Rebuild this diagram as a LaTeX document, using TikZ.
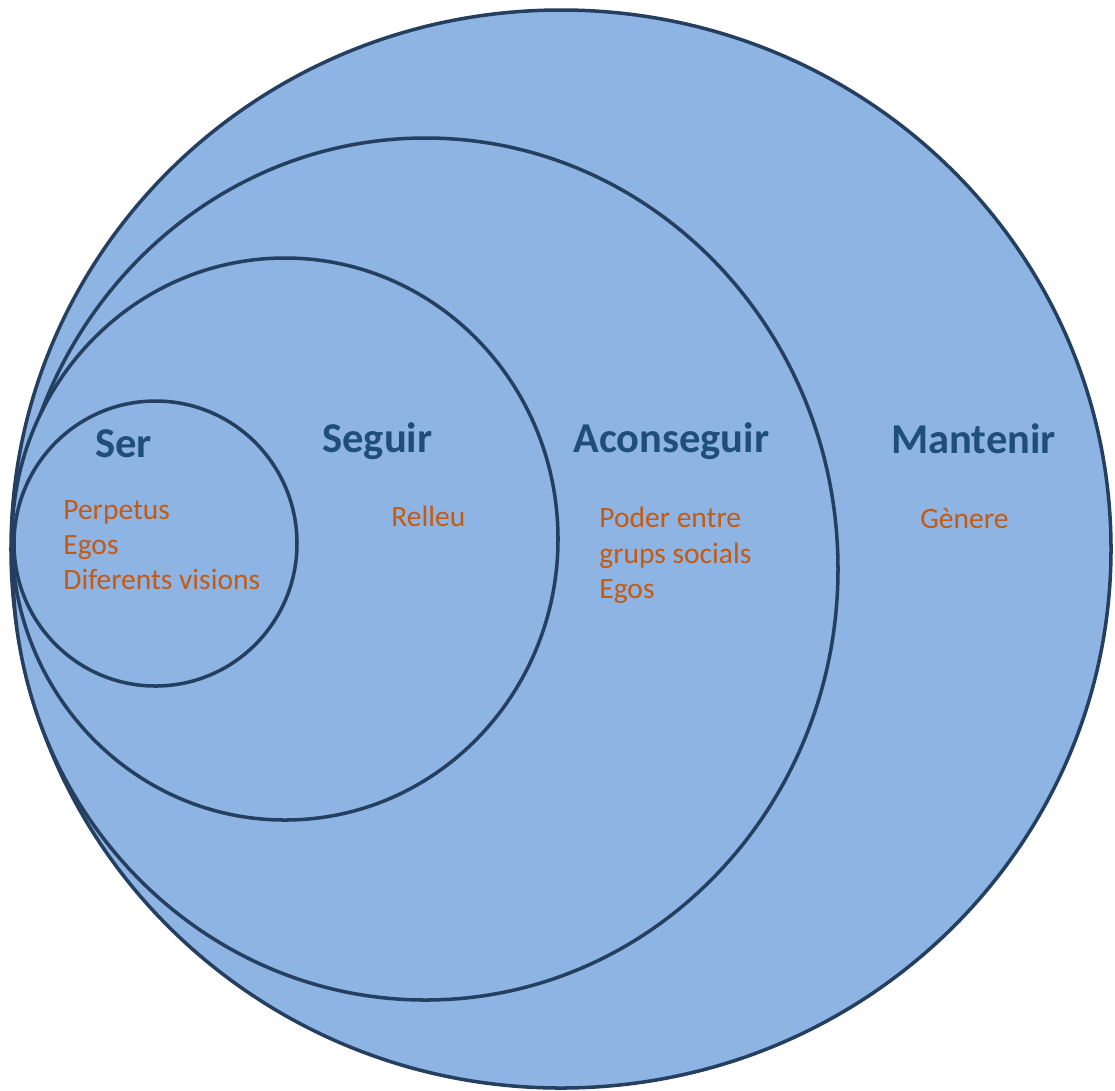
\documentclass[tikz,border=0pt]{standalone}
\usepackage{fontspec}
\setmainfont{Carlito}
\usepackage{tikz}
\definecolor{ringfill}{HTML}{8EB4E3}
\definecolor{ringline}{HTML}{243F60}
\definecolor{titleblue}{HTML}{1F4E79}
\definecolor{noteorange}{HTML}{C55A11}
\tikzset{
  ring/.style={draw=ringline, fill=ringfill, line width=2pt},
  title/.style={font=\fontsize{24.2}{29}\selectfont\bfseries, text=titleblue, inner sep=0pt, anchor=base west},
  note/.style={font=\fontsize{16.8}{20}\selectfont, text=noteorange, inner sep=0pt, align=left}
}
\begin{document}
\begin{tikzpicture}[x=0.02cm, y=-0.02cm]
\useasboundingbox (0,0) rectangle (1115,1090);

% draw nested circles, biggest first
\foreach \cx/\cy/\rx/\ry in {561/549/550/539, 425.5/569/412.5/431, 285/539/273/281, 155.5/543.5/141.5/142.5}
\draw[ring] (\cx,\cy) ellipse ({\rx} and {\ry});

% titles
\node[title] (ser) at (95,457) {Ser};
\node[title] (seguir) at (322,452) {Seguir};
\node[title] (aconseguir) at (573,452) {Aconseguir};
\node[title] (mantenir) at (891,453) {Mantenir};

% notes
\node[note, anchor=north west] (serNote) at (63,500) {Perpetus\\Egos\\Diferents visions};
\node[note, anchor=base west] (seguirNote) at (391,526) {Relleu};
\node[note, anchor=north west] (aconseguirNote) at (599,507) {Poder entre\\grups socials\\Egos};
\node[note, anchor=base west] (mantenirNote) at (920,528) {Gènere};
\end{tikzpicture}
\end{document}
